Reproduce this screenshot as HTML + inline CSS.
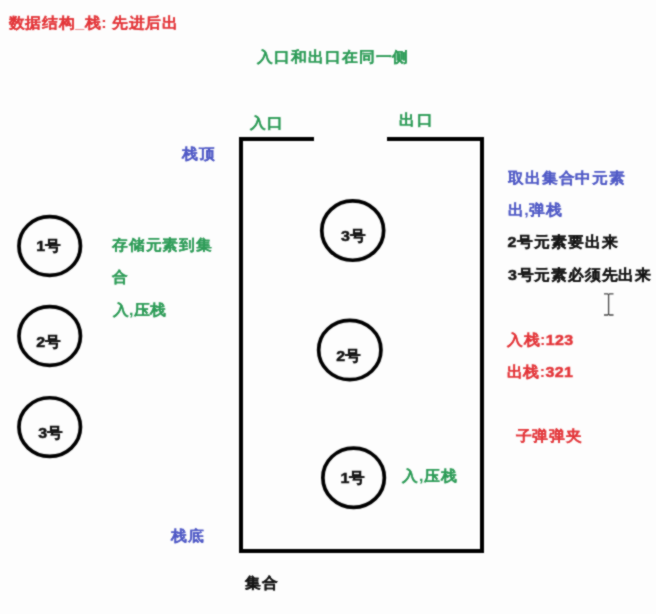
<!DOCTYPE html>
<html><head><meta charset="utf-8"><style>
html,body{margin:0;padding:0;background:#fdfdfd;width:656px;height:614px;overflow:hidden}
body{position:relative;font-family:"Liberation Sans",sans-serif;font-weight:bold;font-size:16.0px;line-height:16.0px}
.t{position:absolute;white-space:nowrap;transform:scaleY(.95);transform-origin:0 7.5px;-webkit-text-stroke:0.05px currentColor}
.r{color:#e3363a}
.g{color:#2e9c58}
.b{color:#505ac6}
.k{color:#151515;-webkit-text-stroke-width:0.25px}
.ct{position:absolute;white-space:nowrap;transform:scaleY(.96);transform-origin:0 7.5px;-webkit-text-stroke:0.25px currentColor;font-size:16.0px;line-height:16.0px;color:#111}
.ln{position:absolute;background:#000}
.d{-webkit-text-stroke-width:0.55px}

#w{position:absolute;left:0;top:0;width:656px;height:614px;filter:url(#soft)}</style></head><body>
<svg width="0" height="0" style="position:absolute"><filter id="soft" x="0" y="0" width="100%" height="100%" color-interpolation-filters="sRGB"><feConvolveMatrix order="3" kernelMatrix="1 2 1 2 10 2 1 2 1" edgeMode="none"/></filter></svg>
<div id="w">
<svg style="position:absolute;left:0;top:0" width="656" height="614" viewBox="0 0 656 614">
<g fill="#000">
<rect x="239" y="137" width="75" height="4"/>
<rect x="387" y="137" width="97" height="4"/>
<rect x="239" y="137" width="4" height="416"/>
<rect x="480" y="137" width="4" height="416"/>
<rect x="239" y="549" width="245" height="4"/>
</g>
<g fill="none" stroke="#000" stroke-width="3.7">
<ellipse cx="49.7" cy="246" rx="30.75" ry="29.35"/>
<ellipse cx="49.7" cy="336" rx="30.75" ry="29.35"/>
<ellipse cx="49.7" cy="427.1" rx="30.75" ry="29.35"/>
<ellipse cx="352.7" cy="230.6" rx="30.95" ry="29.65"/>
<ellipse cx="349.8" cy="350" rx="31.15" ry="29.65"/>
<ellipse cx="353.6" cy="477.7" rx="30.75" ry="29.65"/>
</g>
<path d="M604 293.8h3.6l1 .9l1-.9h3.9M604 315h3.6l1-.9l1 .9h3.9M608.6 294.7V314.1" stroke="#474747" stroke-width="1.3" fill="none"/>
</svg>
<div class="t r" style="left:8.8px;top:14.8px;letter-spacing:0.59px">数据结构_栈: 先进后出</div>
<div class="t g" style="left:257.2px;top:48.6px;letter-spacing:0.91px">入口和出口在同一侧</div>
<div class="t g" style="left:250.2px;top:114.8px;letter-spacing:1.2px">入口</div>
<div class="t g" style="left:399.4px;top:111.8px;letter-spacing:1.2px">出口</div>
<div class="t b" style="left:182.2px;top:145.6px;letter-spacing:0.5px">栈顶</div>
<div class="t g" style="left:111.9px;top:237.0px;letter-spacing:0.84px">存储元素到集</div>
<div class="t g" style="left:111.9px;top:269.4px">合</div>
<div class="t g" style="left:112.5px;top:302.0px;letter-spacing:0.38px">入,压栈</div>
<div class="t b" style="left:507.8px;top:170.0px;letter-spacing:0.91px">取出集合中元素</div>
<div class="t b" style="left:507.6px;top:201.9px;letter-spacing:0.72px">出,弹栈</div>
<div class="t k" style="left:507.4px;top:234.3px;letter-spacing:0.88px"><span class="d">2</span>号元素要出来</div>
<div class="t k" style="left:508.0px;top:266.6px;letter-spacing:0.78px"><span class="d">3</span>号元素必须先出来</div>
<div class="t r" style="left:507.3px;top:331.6px;letter-spacing:0.36px">入栈:<span class="d">123</span></div>
<div class="t r" style="left:507.0px;top:363.5px;letter-spacing:0.39px">出栈:<span class="d">321</span></div>
<div class="t r" style="left:515.6px;top:428.4px;letter-spacing:0.75px">子弹弹夹</div>
<div class="t g" style="left:402.4px;top:467.8px;letter-spacing:0.58px">入,压栈</div>
<div class="t b" style="left:171.2px;top:528.1px;letter-spacing:1.2px">栈底</div>
<div class="t k" style="left:245.4px;top:574.7px;letter-spacing:1.0px">集合</div>
<div class="ct" style="left:36.3px;top:238.1px;letter-spacing:0.0px"><span class="d">1</span>号</div>
<div class="ct" style="left:36.3px;top:333.6px;letter-spacing:0.0px"><span class="d">2</span>号</div>
<div class="ct" style="left:38.2px;top:425.0px;letter-spacing:0.0px"><span class="d">3</span>号</div>
<div class="ct" style="left:341.0px;top:228.0px;letter-spacing:0.0px"><span class="d">3</span>号</div>
<div class="ct" style="left:336.2px;top:347.8px;letter-spacing:0.0px"><span class="d">2</span>号</div>
<div class="ct" style="left:340.5px;top:469.8px;letter-spacing:0.0px"><span class="d">1</span>号</div>
</div>
</body></html>
